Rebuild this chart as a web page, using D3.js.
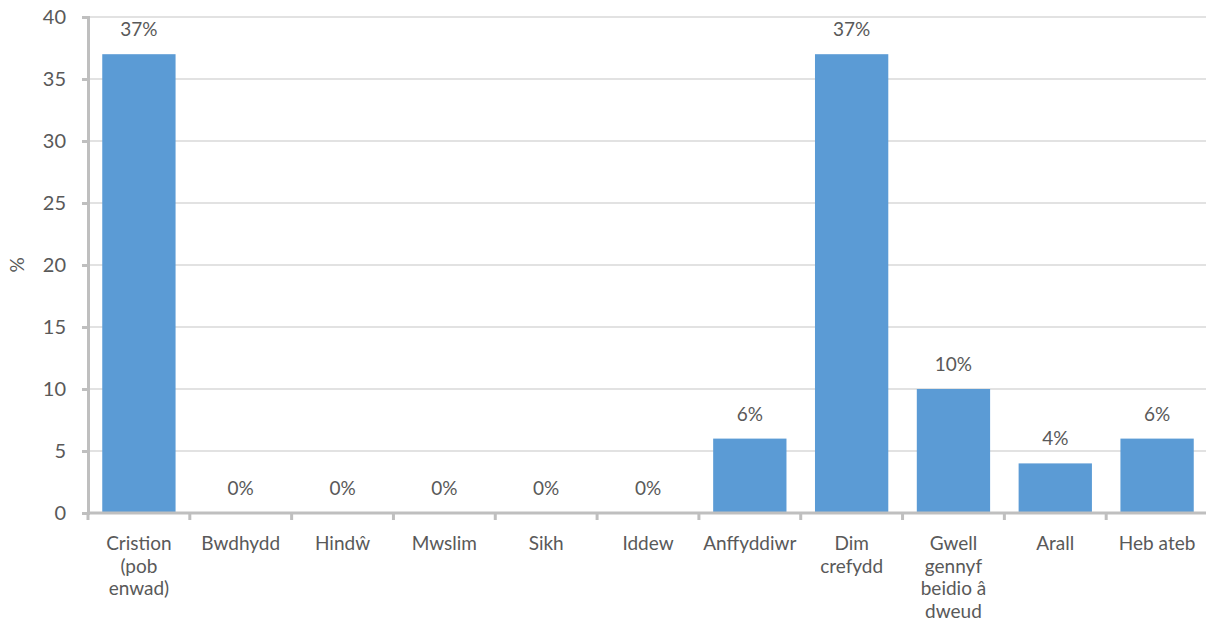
<!DOCTYPE html>
<html>
<head>
<meta charset="utf-8">
<script src="https://cdn.jsdelivr.net/npm/d3@7"></script>
<style>
  body { margin: 0; background: #fff; }
  text { font-family: Lato, "Open Sans", sans-serif; fill: #595959; }
</style>
</head>
<body>
<svg width="1206" height="627"></svg>
<script>
// categories and values (percent)
var categories = ["Cristion (pob enwad)", "Bwdhydd", "Hindŵ", "Mwslim", "Sikh", "Iddew",
                  "Anffyddiwr", "Dim crefydd", "Gwell gennyf beidio â dweud", "Arall", "Heb ateb"];
var values = [37, 0, 0, 0, 0, 0, 6, 37, 10, 4, 6];
var yTicks = [0, 5, 10, 15, 20, 25, 30, 35, 40];

var svg = d3.select("svg");
var margin = {left: 88, right: -2, top: 17, bottom: 114};
var width = 1206 - margin.left - margin.right,
    height = 627 - margin.top - margin.bottom;

var g = svg.append("g").attr("transform", "translate(" + margin.left + "," + margin.top + ")");

var x = d3.scaleBand().domain(categories).range([0, width]).paddingInner(0.28).paddingOuter(0.14);
var y = d3.scaleLinear().domain([0, 40]).range([height, 0]);

// gridlines
g.selectAll(".grid").data(yTicks.filter(function (d) { return d > 0; }))
  .enter().append("line")
  .attr("x1", 0).attr("x2", width)
  .attr("y1", function (d) { return y(d); }).attr("y2", function (d) { return y(d); })
  .attr("stroke", "#d9d9d9").attr("stroke-width", 1.5);

// bars
g.selectAll(".bar").data(values).enter().append("rect")
  .attr("x", function (d, i) { return x(categories[i]); })
  .attr("y", function (d) { return y(d); })
  .attr("width", x.bandwidth())
  .attr("height", function (d) { return height - y(d); })
  .attr("fill", "#5b9bd5");

// data labels
g.selectAll(".lbl").data(values).enter().append("text")
  .attr("x", function (d, i) { return x(categories[i]) + x.bandwidth() / 2; })
  .attr("y", function (d) { return y(d) - 18; })
  .attr("text-anchor", "middle")
  .style("font-size", "19px")
  .text(function (d) { return d + "%"; });

// y axis
var yAxis = g.append("g").call(d3.axisLeft(y).tickValues(yTicks).tickSize(6).tickPadding(16));
yAxis.select(".domain").attr("stroke", "#bfbfbf").attr("stroke-width", 3);
yAxis.selectAll(".tick line").attr("stroke", "#bfbfbf").attr("stroke-width", 3);
yAxis.selectAll(".tick text").style("font-size", "20px").attr("fill", "#595959");

// x axis baseline + boundary ticks
var step = x.step();
var bounds = d3.range(categories.length + 1).map(function (i) { return i * step; });
g.append("line").attr("x1", 0).attr("x2", width).attr("y1", height).attr("y2", height)
  .attr("stroke", "#bfbfbf").attr("stroke-width", 3);
g.selectAll(".xt").data(bounds).enter().append("line")
  .attr("x1", function (d) { return d; }).attr("x2", function (d) { return d; })
  .attr("y1", height).attr("y2", height + 7)
  .attr("stroke", "#bfbfbf").attr("stroke-width", 3);

// x labels, wrapped
var xl = g.selectAll(".xl").data(categories).enter().append("text")
  .attr("text-anchor", "middle")
  .attr("transform", function (d) { return "translate(" + (x(d) + x.bandwidth() / 2) + "," + (height + 37) + ")"; })
  .style("font-size", "19px");
xl.each(function (d) {
  var t = d3.select(this), words = d.split(" "), line = [], lines = [];
  var probe = t.append("tspan");
  words.forEach(function (w) {
    line.push(w);
    probe.text(line.join(" "));
    if (probe.node().getComputedTextLength() > 86 && line.length > 1) {
      line.pop(); lines.push(line.join(" ")); line = [w];
    }
  });
  lines.push(line.join(" "));
  probe.remove();
  lines.forEach(function (l, i) {
    t.append("tspan").attr("x", 0).attr("y", i * 22.5).text(l);
  });
});

// y title
svg.append("text")
  .attr("transform", "translate(24," + (margin.top + height / 2) + ") rotate(-90)")
  .attr("text-anchor", "middle")
  .style("font-size", "19px")
  .text("%");
</script>
</body>
</html>
